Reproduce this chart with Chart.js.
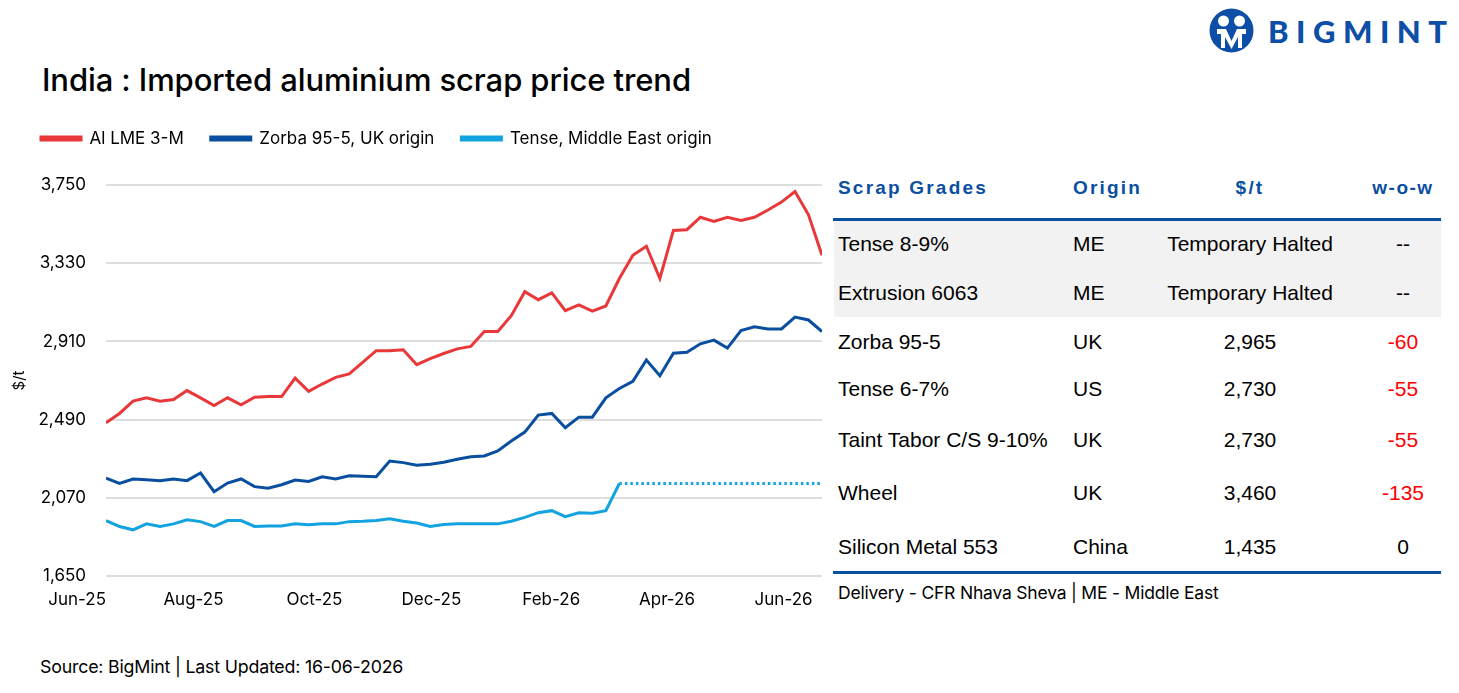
<!DOCTYPE html>
<html>
<head>
<meta charset="utf-8">
<script src="https://cdn.jsdelivr.net/npm/chart.js@4.4.1/dist/chart.umd.min.js"></script>
<style>
  body { margin: 0; background: #fff; width: 1459px; height: 693px; position: relative; overflow: hidden; font-family: Inter, sans-serif; color: #000; }
  #title { position: absolute; left: 42px; top: 61px; font-size: 31px; font-weight: 500; letter-spacing: -0.1px; white-space: nowrap; }
  #logo { position: absolute; left: 1209px; top: 8px; height: 45px; display: flex; align-items: center; }
  #logo span { font-family: Lato, sans-serif; font-weight: 900; font-size: 31px; letter-spacing: 7.5px; color: #0d4ea6; margin-left: 14px; }
  #chartBox { position: absolute; left: 0; top: 103px; width: 832px; height: 515px; }
  #tbl { position: absolute; left: 833px; top: 0; width: 608px; font-family: "Liberation Sans", Arial, sans-serif; }
  .row { position: absolute; left: 0; width: 608px; display: grid; grid-template-columns: 235px 82px 200px 15px 76px; align-items: center; font-size: 21px; }
  .row div:nth-child(1), .row div:nth-child(2) { padding-left: 5px; }
  .row div:nth-child(3), .row div:nth-child(5) { text-align: center; }
  .hdr { font-weight: bold; font-size: 19px; letter-spacing: 2.2px; color: #0a4fa0; }
  .hdr div:nth-child(5) { letter-spacing: 1.5px; }
  .grey { position: absolute; left: 1px; width: 607px; top: 221px; height: 96px; background: #f2f2f2; }
  .rule { position: absolute; left: 0; width: 608px; height: 3px; background: #0a4fa0; }
  .neg { color: #ff0000; }
  #note { position: absolute; left: 838px; top: 582px; font-size: 17.5px; letter-spacing: -0.2px; white-space: nowrap; }
  #source { position: absolute; left: 40px; top: 656px; font-size: 17.8px; letter-spacing: -0.2px; white-space: nowrap; }
</style>
</head>
<body>
<div id="title">India : Imported aluminium scrap price trend</div>
<div id="logo">
  <svg width="45" height="45" viewBox="0 0 45 45">
    <circle cx="22.5" cy="22.5" r="22" fill="#0d4ea6"/>
    <circle cx="14.5" cy="13" r="5.5" fill="#fff"/>
    <circle cx="30.5" cy="13" r="5.5" fill="#fff"/>
    <path d="M8 21 h9 l5.5 12 l5.5 -12 h9 v5 h-4 v14 h-4 v-11 l-6.5 12 l-6.5 -12 v11 h-4 v-14 h-4 z" fill="#fff"/>
  </svg>
  <span>BIGMINT</span>
</div>

<div id="chartBox"><canvas id="myChart"></canvas></div>

<div id="tbl"></div>
<div id="note">Delivery - CFR Nhava Sheva | ME - Middle East</div>
<div id="source">Source: BigMint | Last Updated: 16-06-2026</div>

<script>
// weekly prices, $/t (Jun-25 .. mid Jun-26)
const lme = [2473, 2523, 2589, 2607, 2589, 2598, 2646, 2607, 2566, 2607, 2569, 2610, 2614, 2614, 2713,
  2642, 2681, 2717, 2735, 2797, 2860, 2860, 2865, 2785, 2817, 2845, 2870, 2883, 2963, 2963, 3048, 3177, 3134, 3171,
  3075, 3106, 3073, 3100, 3248, 3373, 3421, 3248, 3506, 3510, 3577, 3554, 3577, 3560, 3577, 3616, 3658, 3715, 3590, 3373];
const zorba = [2176, 2147, 2171, 2167, 2162, 2171, 2162, 2203, 2103, 2149, 2171, 2130, 2122, 2140, 2165,
  2158, 2183, 2171, 2188, 2186, 2183, 2267, 2259, 2245, 2250, 2261, 2277, 2290, 2295, 2322, 2375, 2423, 2514, 2523,
  2446, 2503, 2503, 2607, 2657, 2696, 2810, 2726, 2847, 2852, 2897, 2917, 2874, 2968, 2988, 2977, 2977, 3041, 3025, 2963];
const tense = [1948, 1916, 1898, 1930, 1916, 1930, 1952, 1942, 1916, 1948, 1948, 1916, 1918, 1918, 1930,
  1925, 1930, 1930, 1942, 1944, 1948, 1957, 1944, 1935, 1916, 1927, 1930, 1930, 1930, 1930, 1944, 1965, 1990, 2001,
  1969, 1990, 1987, 2001, 2147, 2147, 2147, 2147, 2147, 2147, 2147, 2147, 2147, 2147, 2147, 2147, 2147, 2147, 2147, 2147];
const tenseHaltedFrom = 38; // dotted after this week (temporarily halted)

const seriesNames = ['Al LME 3-M', 'Zorba 95-5, UK origin', 'Tense, Middle East origin'];
const seriesColors = ['#e8383a', '#0a4ea0', '#12a3e0'];

const xTickPos = [0, 8.7, 17.5, 26.3, 35.1, 43.6, 52.3]; // in weeks from first point
const xTickLabels = ['Jun-25', 'Aug-25', 'Oct-25', 'Dec-25', 'Feb-26', 'Apr-26', 'Jun-26'];
const yTicks = [1650, 2070, 2490, 2910, 3330, 3750];

// table
const tblHead = ['Scrap Grades', 'Origin', '$/t', 'w-o-w'];
const grades = ['Tense 8-9%', 'Extrusion 6063', 'Zorba 95-5', 'Tense 6-7%', 'Taint Tabor C/S 9-10%', 'Wheel', 'Silicon Metal 553'];
const origins = ['ME', 'ME', 'UK', 'US', 'UK', 'UK', 'China'];
const prices = ['Temporary Halted', 'Temporary Halted', '2,965', '2,730', '2,730', '3,460', '1,435'];
const wow = ['--', '--', '-60', '-55', '-55', '-135', '0'];
const rowCenters = [244, 293, 342, 389, 440, 493, 547];

const tbl = document.getElementById('tbl');
let html = '<div class="grey"></div>';
html += '<div class="row hdr" style="top:168px;height:40px">' +
  tblHead.map((h, i) => (i === 3 ? '<div></div>' : '') + '<div>' + h + '</div>').join('') + '</div>';
html += '<div class="rule" style="top:218px"></div>';
grades.forEach((g, i) => {
  const cls = wow[i].startsWith('-') && wow[i] !== '--' ? 'neg' : '';
  html += '<div class="row" style="top:' + (rowCenters[i] - 20) + 'px;height:40px">' +
    '<div>' + g + '</div><div>' + origins[i] + '</div><div>' + prices[i] + '</div><div></div>' +
    '<div class="' + cls + '">' + wow[i] + '</div></div>';
});
html += '<div class="rule" style="top:571px"></div>';
tbl.innerHTML = html;

const toXY = arr => arr.map((v, i) => ({ x: i, y: v }));

// extra space under the legend before the plot
const legendGap = {
  id: 'legendGap',
  afterInit(chart) {
    const fit = chart.legend.fit;
    chart.legend.fit = function () { fit.call(this); this.height += 28; };
  }
};

const ctx = document.getElementById('myChart').getContext('2d');
const myChart = new Chart(ctx, {
  type: 'line',
  data: {
    datasets: [
      { label: seriesNames[0], data: toXY(lme), borderColor: seriesColors[0], backgroundColor: seriesColors[0] },
      { label: seriesNames[1], data: toXY(zorba), borderColor: seriesColors[1], backgroundColor: seriesColors[1] },
      {
        label: seriesNames[2], data: toXY(tense), borderColor: seriesColors[2], backgroundColor: seriesColors[2],
        segment: { borderDash: c => c.p0DataIndex >= tenseHaltedFrom ? [2.5, 3] : undefined }
      }
    ]
  },
  plugins: [legendGap],
  options: {
    responsive: true,
    maintainAspectRatio: false,
    animation: false,
    layout: { padding: { left: 14, right: 10, top: 0, bottom: 0 } },
    elements: {
      line: { borderWidth: 3, tension: 0 },
      point: { radius: 0 }
    },
    plugins: {
      legend: {
        position: 'top',
        align: 'start',
        labels: {
          boxWidth: 40,
          boxHeight: 3,
          padding: 27,
          color: '#000',
          font: { family: 'Inter', size: 17 }
        }
      },
      tooltip: { enabled: false }
    },
    scales: {
      x: {
        type: 'linear',
        min: 0,
        max: 53,
        afterBuildTicks: s => { s.ticks = xTickPos.map(v => ({ value: v })); },
        afterFit: s => { s.height = 42; },
        grid: { display: false },
        border: { display: false },
        ticks: {
          autoSkip: false,
          maxRotation: 0,
          align: 'end',
          padding: 6,
          color: '#000',
          font: { family: 'Inter', size: 17 },
          callback: (v, i) => xTickLabels[i]
        }
      },
      y: {
        min: 1650,
        max: 3750,
        afterBuildTicks: s => { s.ticks = yTicks.map(v => ({ value: v })); },
        afterFit: s => { s.width = 92; },
        grid: { color: '#dedede', lineWidth: 2, drawTicks: false },
        border: { display: false },
        title: {
          display: true,
          text: '$/t',
          color: '#000',
          font: { family: 'Inter', size: 15, lineHeight: 1 },
          padding: { top: -2, bottom: 0 }
        },
        ticks: {
          padding: 20,
          color: '#000',
          font: { family: 'Inter', size: 17 },
          callback: v => v.toLocaleString('en-US')
        }
      }
    }
  }
});
</script>
</body>
</html>
